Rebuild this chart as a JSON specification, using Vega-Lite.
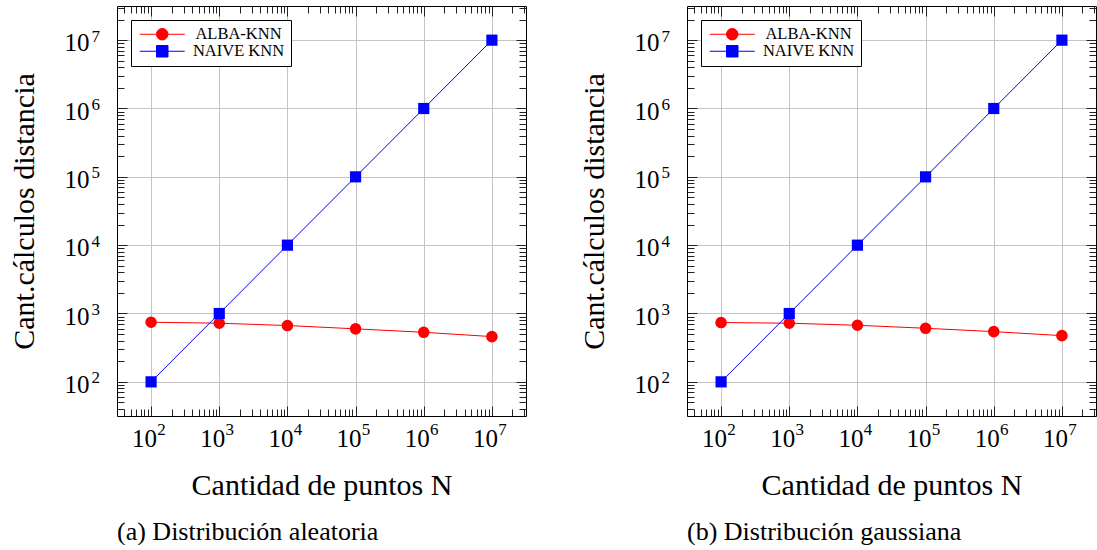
{
  "$schema": "https://vega.github.io/schema/vega-lite/v6.json",
  "padding": {"left": 9, "top": 5, "right": 0, "bottom": 0},
  "spacing": 52,
  "datasets": {
    "aleatoria": [
      {"N": 100, "serie": "ALBA-KNN", "valor": 745},
      {"N": 1000, "serie": "ALBA-KNN", "valor": 721},
      {"N": 10000, "serie": "ALBA-KNN", "valor": 667},
      {"N": 100000, "serie": "ALBA-KNN", "valor": 596},
      {"N": 1000000, "serie": "ALBA-KNN", "valor": 531},
      {"N": 10000000, "serie": "ALBA-KNN", "valor": 459},
      {"N": 100, "serie": "NAIVE KNN", "valor": 100},
      {"N": 1000, "serie": "NAIVE KNN", "valor": 1000},
      {"N": 10000, "serie": "NAIVE KNN", "valor": 10000},
      {"N": 100000, "serie": "NAIVE KNN", "valor": 100000},
      {"N": 1000000, "serie": "NAIVE KNN", "valor": 1000000},
      {"N": 10000000, "serie": "NAIVE KNN", "valor": 10000000}
    ],
    "gaussiana": [
      {"N": 100, "serie": "ALBA-KNN", "valor": 738},
      {"N": 1000, "serie": "ALBA-KNN", "valor": 721},
      {"N": 10000, "serie": "ALBA-KNN", "valor": 673},
      {"N": 100000, "serie": "ALBA-KNN", "valor": 608},
      {"N": 1000000, "serie": "ALBA-KNN", "valor": 543},
      {"N": 10000000, "serie": "ALBA-KNN", "valor": 474},
      {"N": 100, "serie": "NAIVE KNN", "valor": 100},
      {"N": 1000, "serie": "NAIVE KNN", "valor": 1000},
      {"N": 10000, "serie": "NAIVE KNN", "valor": 10000},
      {"N": 100000, "serie": "NAIVE KNN", "valor": 100000},
      {"N": 1000000, "serie": "NAIVE KNN", "valor": 1000000},
      {"N": 10000000, "serie": "NAIVE KNN", "valor": 10000000}
    ]
  },
  "hconcat": [
    {
      "width": 409, "height": 410,
      "data": {"name": "aleatoria"},
      "title": {"text": "(a) Distribución aleatoria", "orient": "bottom", "anchor": "start", "frame": "group", "offset": 19, "fontSize": 26, "font": "Liberation Serif", "fontWeight": "normal", "color": "black"},
      "layer": [
        {
          "mark": {"type": "line", "strokeWidth": 1},
          "encoding": {
            "x": {"field": "N", "type": "quantitative",
              "scale": {"type": "log", "domain": [31.6227766, 31622776.6], "nice": false},
              "axis": {"orient": "bottom", "values": [40,50,60,70,80,90,100,200,300,400,500,600,700,800,900,1000,2000,3000,4000,5000,6000,7000,8000,9000,10000,20000,30000,40000,50000,60000,70000,80000,90000,100000,200000,300000,400000,500000,600000,700000,800000,900000,1000000,2000000,3000000,4000000,5000000,6000000,7000000,8000000,9000000,10000000,20000000,30000000],
                "title": "Cantidad de puntos N", "titleFontSize": 30, "titlePadding": 19,
                "labelExpr": "indexof([100,1000,10000,100000,1000000,10000000], datum.value) >= 0 ? '10' : ''",
                "labelFontSize": {"condition": {"test": "indexof([100,1000,10000,100000,1000000,10000000], datum.value) >= 0", "value": 25}, "value": 0},
                "labelOffset": -7, "labelPadding": 20,
                "tickSize": {"condition": {"test": "indexof([100,1000,10000,100000,1000000,10000000], datum.value) >= 0", "value": -10}, "value": -7},
                "grid": true,
                "gridOpacity": {"condition": {"test": "indexof([100,1000,10000,100000,1000000,10000000], datum.value) >= 0", "value": 1}, "value": 0}
              }},
            "y": {"field": "valor", "type": "quantitative",
              "scale": {"type": "log", "domain": [31.6227766, 31622776.6], "nice": false},
              "axis": {"orient": "left", "values": [40,50,60,70,80,90,100,200,300,400,500,600,700,800,900,1000,2000,3000,4000,5000,6000,7000,8000,9000,10000,20000,30000,40000,50000,60000,70000,80000,90000,100000,200000,300000,400000,500000,600000,700000,800000,900000,1000000,2000000,3000000,4000000,5000000,6000000,7000000,8000000,9000000,10000000,20000000,30000000],
                "title": "Cant.cálculos distancia", "titleFontSize": 30, "titlePadding": 25,
                "labelExpr": "indexof([100,1000,10000,100000,1000000,10000000], datum.value) >= 0 ? '10' : ''",
                "labelFontSize": {"condition": {"test": "indexof([100,1000,10000,100000,1000000,10000000], datum.value) >= 0", "value": 25}, "value": 0},
                "labelOffset": 2.5, "labelPadding": 38,
                "tickSize": {"condition": {"test": "indexof([100,1000,10000,100000,1000000,10000000], datum.value) >= 0", "value": -10}, "value": -7},
                "grid": true,
                "gridOpacity": {"condition": {"test": "indexof([100,1000,10000,100000,1000000,10000000], datum.value) >= 0", "value": 1}, "value": 0}
              }},
            "color": {"field": "serie", "type": "nominal",
              "scale": {"domain": ["ALBA-KNN", "NAIVE KNN"], "range": ["#ff0000", "#0000ff"]},
              "legend": {"orient": "top-left", "offset": 14, "title": null, "strokeColor": "black", "fillColor": "white", "padding": 6, "cornerRadius": 0,
                "labelFont": "Liberation Serif", "labelFontSize": 16.5, "labelColor": "black", "labelAlign": "center",
                "symbolSize": 100, "symbolOffset": 17, "labelOffset": 68, "rowPadding": 0,
                "encode": {
                  "symbols": {"update": {
                    "shape": {"signal": "datum.value === 'ALBA-KNN' ? 'M-4.5,0L4.5,0M1.15,0A1.15,1.15 0 1,1 -1.15,0A1.15,1.15 0 1,1 1.15,0Z' : 'M-4.5,0L4.5,0M-1.15,-1.15L1.15,-1.15L1.15,1.15L-1.15,1.15Z'"},
                    "fill": {"signal": "datum.value === 'ALBA-KNN' ? '#ff0000' : '#0000ff'"},
                    "stroke": {"signal": "datum.value === 'ALBA-KNN' ? '#ff0000' : '#0000ff'"},
                    "strokeWidth": {"value": 1},
                    "size": {"value": 100},
                    "opacity": {"value": 1}
                  }},
                  "legend": {"update": {"strokeWidth": {"value": 1}}}
                }
              }}
          }
        },
        {
          "transform": [{"filter": "datum.serie === 'ALBA-KNN'"}],
          "mark": {"type": "point", "shape": "circle", "filled": true, "size": 135, "opacity": 1},
          "encoding": {
            "x": {"field": "N", "type": "quantitative",
              "scale": {"type": "log", "domain": [31.6227766, 31622776.6], "nice": false},
              "axis": {"orient": "top", "values": [40,50,60,70,80,90,100,200,300,400,500,600,700,800,900,1000,2000,3000,4000,5000,6000,7000,8000,9000,10000,20000,30000,40000,50000,60000,70000,80000,90000,100000,200000,300000,400000,500000,600000,700000,800000,900000,1000000,2000000,3000000,4000000,5000000,6000000,7000000,8000000,9000000,10000000,20000000,30000000],
                "title": null, "labels": false, "grid": false,
                "tickSize": {"condition": {"test": "indexof([100,1000,10000,100000,1000000,10000000], datum.value) >= 0", "value": -10}, "value": -7}
              }},
            "y": {"field": "valor", "type": "quantitative",
              "scale": {"type": "log", "domain": [31.6227766, 31622776.6], "nice": false},
              "axis": {"orient": "right", "values": [40,50,60,70,80,90,100,200,300,400,500,600,700,800,900,1000,2000,3000,4000,5000,6000,7000,8000,9000,10000,20000,30000,40000,50000,60000,70000,80000,90000,100000,200000,300000,400000,500000,600000,700000,800000,900000,1000000,2000000,3000000,4000000,5000000,6000000,7000000,8000000,9000000,10000000,20000000,30000000],
                "title": null, "labels": false, "grid": false,
                "tickSize": {"condition": {"test": "indexof([100,1000,10000,100000,1000000,10000000], datum.value) >= 0", "value": -10}, "value": -7}
              }},
            "color": {"field": "serie", "type": "nominal"}
          }
        },
        {
          "transform": [{"filter": "datum.serie === 'NAIVE KNN'"}],
          "mark": {"type": "point", "shape": "square", "filled": true, "size": 125, "opacity": 1},
          "encoding": {
            "x": {"field": "N", "type": "quantitative",
              "scale": {"type": "log", "domain": [31.6227766, 31622776.6], "nice": false},
              "axis": {"orient": "bottom", "values": [100,1000,10000,100000,1000000,10000000],
                "title": null, "ticks": false, "grid": false, "domain": false,
                "labelExpr": "'' + round(log(datum.value) / LN10)",
                "labelFontSize": 17, "labelOffset": 10, "labelPadding": 5}},
            "y": {"field": "valor", "type": "quantitative",
              "scale": {"type": "log", "domain": [31.6227766, 31622776.6], "nice": false},
              "axis": {"orient": "left", "values": [100,1000,10000,100000,1000000,10000000],
                "title": null, "ticks": false, "grid": false, "domain": false,
                "labelExpr": "'' + round(log(datum.value) / LN10)",
                "labelFontSize": 17, "labelOffset": -4, "labelPadding": 26, "labelAlign": "left"}},
            "color": {"field": "serie", "type": "nominal"}
          }
        }
      ],
      "resolve": {"axis": {"x": "independent", "y": "independent"}}
    },
    {
      "width": 409, "height": 410,
      "data": {"name": "gaussiana"},
      "title": {"text": "(b) Distribución gaussiana", "orient": "bottom", "anchor": "start", "frame": "group", "offset": 19, "fontSize": 26, "font": "Liberation Serif", "fontWeight": "normal", "color": "black"},
      "layer": [
        {
          "mark": {"type": "line", "strokeWidth": 1},
          "encoding": {
            "x": {"field": "N", "type": "quantitative",
              "scale": {"type": "log", "domain": [31.6227766, 31622776.6], "nice": false},
              "axis": {"orient": "bottom", "values": [40,50,60,70,80,90,100,200,300,400,500,600,700,800,900,1000,2000,3000,4000,5000,6000,7000,8000,9000,10000,20000,30000,40000,50000,60000,70000,80000,90000,100000,200000,300000,400000,500000,600000,700000,800000,900000,1000000,2000000,3000000,4000000,5000000,6000000,7000000,8000000,9000000,10000000,20000000,30000000],
                "title": "Cantidad de puntos N", "titleFontSize": 30, "titlePadding": 19,
                "labelExpr": "indexof([100,1000,10000,100000,1000000,10000000], datum.value) >= 0 ? '10' : ''",
                "labelFontSize": {"condition": {"test": "indexof([100,1000,10000,100000,1000000,10000000], datum.value) >= 0", "value": 25}, "value": 0},
                "labelOffset": -7, "labelPadding": 20,
                "tickSize": {"condition": {"test": "indexof([100,1000,10000,100000,1000000,10000000], datum.value) >= 0", "value": -10}, "value": -7},
                "grid": true,
                "gridOpacity": {"condition": {"test": "indexof([100,1000,10000,100000,1000000,10000000], datum.value) >= 0", "value": 1}, "value": 0}
              }},
            "y": {"field": "valor", "type": "quantitative",
              "scale": {"type": "log", "domain": [31.6227766, 31622776.6], "nice": false},
              "axis": {"orient": "left", "values": [40,50,60,70,80,90,100,200,300,400,500,600,700,800,900,1000,2000,3000,4000,5000,6000,7000,8000,9000,10000,20000,30000,40000,50000,60000,70000,80000,90000,100000,200000,300000,400000,500000,600000,700000,800000,900000,1000000,2000000,3000000,4000000,5000000,6000000,7000000,8000000,9000000,10000000,20000000,30000000],
                "title": "Cant.cálculos distancia", "titleFontSize": 30, "titlePadding": 25,
                "labelExpr": "indexof([100,1000,10000,100000,1000000,10000000], datum.value) >= 0 ? '10' : ''",
                "labelFontSize": {"condition": {"test": "indexof([100,1000,10000,100000,1000000,10000000], datum.value) >= 0", "value": 25}, "value": 0},
                "labelOffset": 2.5, "labelPadding": 38,
                "tickSize": {"condition": {"test": "indexof([100,1000,10000,100000,1000000,10000000], datum.value) >= 0", "value": -10}, "value": -7},
                "grid": true,
                "gridOpacity": {"condition": {"test": "indexof([100,1000,10000,100000,1000000,10000000], datum.value) >= 0", "value": 1}, "value": 0}
              }},
            "color": {"field": "serie", "type": "nominal",
              "scale": {"domain": ["ALBA-KNN", "NAIVE KNN"], "range": ["#ff0000", "#0000ff"]},
              "legend": {"orient": "top-left", "offset": 14, "title": null, "strokeColor": "black", "fillColor": "white", "padding": 6, "cornerRadius": 0,
                "labelFont": "Liberation Serif", "labelFontSize": 16.5, "labelColor": "black", "labelAlign": "center",
                "symbolSize": 100, "symbolOffset": 17, "labelOffset": 68, "rowPadding": 0,
                "encode": {
                  "symbols": {"update": {
                    "shape": {"signal": "datum.value === 'ALBA-KNN' ? 'M-4.5,0L4.5,0M1.15,0A1.15,1.15 0 1,1 -1.15,0A1.15,1.15 0 1,1 1.15,0Z' : 'M-4.5,0L4.5,0M-1.15,-1.15L1.15,-1.15L1.15,1.15L-1.15,1.15Z'"},
                    "fill": {"signal": "datum.value === 'ALBA-KNN' ? '#ff0000' : '#0000ff'"},
                    "stroke": {"signal": "datum.value === 'ALBA-KNN' ? '#ff0000' : '#0000ff'"},
                    "strokeWidth": {"value": 1},
                    "size": {"value": 100},
                    "opacity": {"value": 1}
                  }},
                  "legend": {"update": {"strokeWidth": {"value": 1}}}
                }
              }}
          }
        },
        {
          "transform": [{"filter": "datum.serie === 'ALBA-KNN'"}],
          "mark": {"type": "point", "shape": "circle", "filled": true, "size": 135, "opacity": 1},
          "encoding": {
            "x": {"field": "N", "type": "quantitative",
              "scale": {"type": "log", "domain": [31.6227766, 31622776.6], "nice": false},
              "axis": {"orient": "top", "values": [40,50,60,70,80,90,100,200,300,400,500,600,700,800,900,1000,2000,3000,4000,5000,6000,7000,8000,9000,10000,20000,30000,40000,50000,60000,70000,80000,90000,100000,200000,300000,400000,500000,600000,700000,800000,900000,1000000,2000000,3000000,4000000,5000000,6000000,7000000,8000000,9000000,10000000,20000000,30000000],
                "title": null, "labels": false, "grid": false,
                "tickSize": {"condition": {"test": "indexof([100,1000,10000,100000,1000000,10000000], datum.value) >= 0", "value": -10}, "value": -7}
              }},
            "y": {"field": "valor", "type": "quantitative",
              "scale": {"type": "log", "domain": [31.6227766, 31622776.6], "nice": false},
              "axis": {"orient": "right", "values": [40,50,60,70,80,90,100,200,300,400,500,600,700,800,900,1000,2000,3000,4000,5000,6000,7000,8000,9000,10000,20000,30000,40000,50000,60000,70000,80000,90000,100000,200000,300000,400000,500000,600000,700000,800000,900000,1000000,2000000,3000000,4000000,5000000,6000000,7000000,8000000,9000000,10000000,20000000,30000000],
                "title": null, "labels": false, "grid": false,
                "tickSize": {"condition": {"test": "indexof([100,1000,10000,100000,1000000,10000000], datum.value) >= 0", "value": -10}, "value": -7}
              }},
            "color": {"field": "serie", "type": "nominal"}
          }
        },
        {
          "transform": [{"filter": "datum.serie === 'NAIVE KNN'"}],
          "mark": {"type": "point", "shape": "square", "filled": true, "size": 125, "opacity": 1},
          "encoding": {
            "x": {"field": "N", "type": "quantitative",
              "scale": {"type": "log", "domain": [31.6227766, 31622776.6], "nice": false},
              "axis": {"orient": "bottom", "values": [100,1000,10000,100000,1000000,10000000],
                "title": null, "ticks": false, "grid": false, "domain": false,
                "labelExpr": "'' + round(log(datum.value) / LN10)",
                "labelFontSize": 17, "labelOffset": 10, "labelPadding": 5}},
            "y": {"field": "valor", "type": "quantitative",
              "scale": {"type": "log", "domain": [31.6227766, 31622776.6], "nice": false},
              "axis": {"orient": "left", "values": [100,1000,10000,100000,1000000,10000000],
                "title": null, "ticks": false, "grid": false, "domain": false,
                "labelExpr": "'' + round(log(datum.value) / LN10)",
                "labelFontSize": 17, "labelOffset": -4, "labelPadding": 26, "labelAlign": "left"}},
            "color": {"field": "serie", "type": "nominal"}
          }
        }
      ],
      "resolve": {"axis": {"x": "independent", "y": "independent"}}
    }
  ],
  "resolve": {"scale": {"color": "independent"}},
  "config": {
    "font": "Liberation Serif",
    "view": {"stroke": null},
    "axis": {
      "labelFont": "Liberation Serif", "titleFont": "Liberation Serif",
      "labelColor": "black", "titleColor": "black", "titleFontWeight": "normal",
      "labelOverlap": false, "labelFlush": false, "labelBound": false,
      "tickColor": "#222222", "tickWidth": 1,
      "domain": true, "domainColor": "black", "domainWidth": 1,
      "gridColor": "#c4c4c4", "gridWidth": 1
    }
  }
}
